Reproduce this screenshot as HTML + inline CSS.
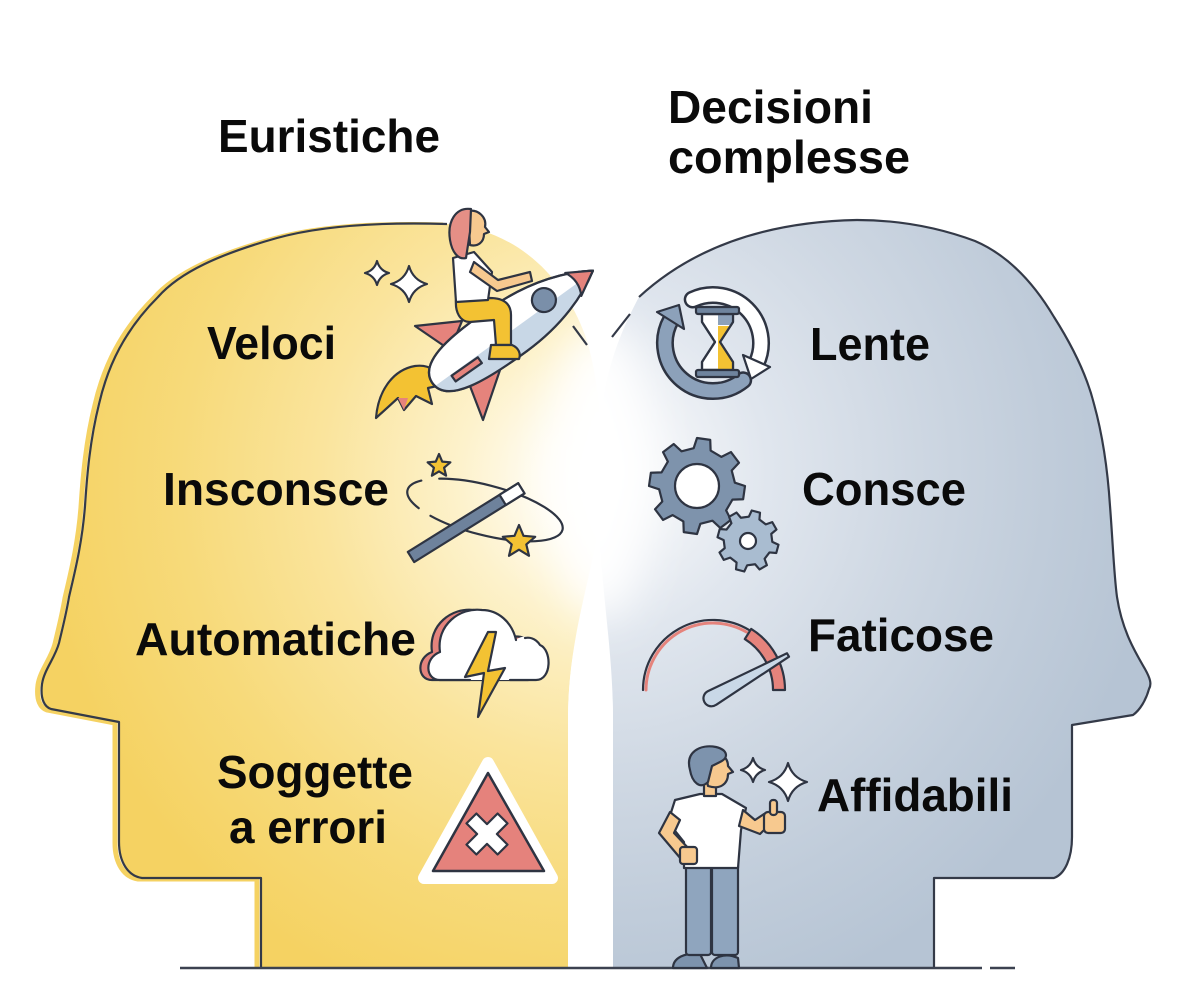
<!DOCTYPE html>
<html><head><meta charset="utf-8">
<style>
html,body{margin:0;padding:0;background:#fff;}
svg{display:block;}
text{font-family:"Liberation Sans",Arial,sans-serif;font-weight:bold;fill:#0a0a0a;}
</style></head>
<body>
<svg width="1200" height="999" viewBox="0 0 1200 999" xmlns="http://www.w3.org/2000/svg">
<defs>
  <radialGradient id="gy" gradientUnits="userSpaceOnUse" cx="600" cy="480" r="560">
    <stop offset="0" stop-color="#FFFFFF"/>
    <stop offset="0.1" stop-color="#FFFCF2"/>
    <stop offset="0.25" stop-color="#FDF2CC"/>
    <stop offset="0.5" stop-color="#FAE49C"/>
    <stop offset="0.75" stop-color="#F7DA7A"/>
    <stop offset="1" stop-color="#F5D262"/>
  </radialGradient>
  <radialGradient id="gb" gradientUnits="userSpaceOnUse" cx="600" cy="470" r="560">
    <stop offset="0" stop-color="#FFFFFF"/>
    <stop offset="0.12" stop-color="#F3F5F8"/>
    <stop offset="0.3" stop-color="#E0E6EE"/>
    <stop offset="0.55" stop-color="#CFD8E3"/>
    <stop offset="0.8" stop-color="#C0CCDA"/>
    <stop offset="1" stop-color="#B6C4D4"/>
  </radialGradient>
  <filter id="blur" x="-100%" y="-100%" width="300%" height="300%"><feGaussianBlur stdDeviation="22"/></filter>
</defs>

<!-- left head offset color edge -->
<path d="M447,224 C380,222 320,226 277,238 C220,254 180,272 158,297 C125,330 108,365 99,404 C90,440 87,475 85,506 C82,545 74,575 69,597 C66,615 62,630 59,643 C55,658 44,670 42,684 C40,700 45,707 51,709 L119,722 L119,842 C119,862 128,876 142,878 L261,878 L261,967" transform="translate(-4,1)" fill="none" stroke="#F5D262" stroke-width="5"/>

<!-- left head fill -->
<path d="M447,224 C520,230 565,280 585,335 C597,370 602,420 602,480 C602,560 568,620 568,720 L568,968 L261,968 L261,878 L142,878 C128,876 119,862 119,842 L119,722 L51,709 C45,707 40,700 42,684 C44,670 55,658 59,643 C62,630 66,615 69,597 C74,575 82,545 85,506 C87,475 90,440 99,404 C108,365 125,330 158,297 C180,272 220,254 277,238 C320,226 380,222 447,224 Z" fill="url(#gy)"/>

<!-- right head fill -->
<path d="M639,297 C690,250 760,222 857,220 C900,220 940,228 975,241 C1010,256 1035,285 1054,317 C1075,350 1088,380 1094,404 C1104,440 1108,475 1110,506 C1113,545 1114,575 1117,597 C1122,630 1135,652 1145,669 C1150,678 1152,684 1149,689 C1146,700 1140,710 1133,715 L1072,725 L1072,837 C1072,858 1065,874 1054,878 L934,878 L934,968 L613,968 L613,720 C613,640 598,580 598,480 C598,410 605,360 639,297 Z" fill="url(#gb)"/>

<!-- center glow & strip -->
<ellipse cx="600" cy="470" rx="50" ry="150" fill="#fff" filter="url(#blur)"/>
<path d="M568,968 L568,720 C568,660 580,615 591,592 C602,615 613,660 613,720 L613,968 Z" fill="#fff"/>

<!-- head outlines -->
<g fill="none" stroke="#343A48" stroke-width="2.2" stroke-linejoin="round">
  <path d="M447,224 C380,222 320,226 277,238 C220,254 180,272 158,297 C125,330 108,365 99,404 C90,440 87,475 85,506 C82,545 74,575 69,597 C66,615 62,630 59,643 C55,658 44,670 42,684 C40,700 45,707 51,709 L119,722 L119,842 C119,862 128,876 142,878 L261,878 L261,967"/>
  <path d="M639,297 C690,250 760,222 857,220 C900,220 940,228 975,241 C1010,256 1035,285 1054,317 C1075,350 1088,380 1094,404 C1104,440 1108,475 1110,506 C1113,545 1114,575 1117,597 C1122,630 1135,652 1145,669 C1150,678 1152,684 1149,689 C1146,700 1140,710 1133,715 L1072,725 L1072,837 C1072,858 1065,874 1054,878 L934,878 L934,967"/>
  <line x1="573" y1="326" x2="587" y2="345"/>
  <line x1="612" y1="337" x2="630" y2="314"/>
</g>

<!-- bottom line -->
<line x1="180" y1="968" x2="982" y2="968" stroke="#3C4250" stroke-width="2.5"/>
<line x1="990" y1="968" x2="1015" y2="968" stroke="#3C4250" stroke-width="2.5"/>

<g stroke="#2E3442" stroke-width="2.2" stroke-linejoin="round" stroke-linecap="round">

<!-- ROCKET sparkles -->
<path d="M377,261 Q379.6,270.4 389,273 Q379.6,275.6 377,285 Q374.4,275.6 365,273 Q374.4,270.4 377,261 Z" fill="#fff"/>
<path d="M409,266 Q413,280 427,284 Q413,288 409,302 Q405,288 391,284 Q405,280 409,266 Z" fill="#fff"/>
<!-- flame -->
<path d="M376,418 C378,392 392,370 415,366 C430,364 440,372 442,385 L428,388 L432,404 L416,396 L404,410 L398,398 Z" fill="#F3C233"/>
<path d="M404,410 L398,398 L408,398 Z" fill="#E5837C" stroke="none"/>
<polygon points="415,326 462,321 450,350" fill="#E5837C"/>
<polygon points="465,373 500,370 483,420" fill="#E5837C"/>
<g transform="translate(511,328) rotate(-35)">
  <path d="M-96,0 C-96,-26 -50,-29 0,-28 C45,-27 78,-14 100,0 C78,14 45,27 0,28 C-50,29 -96,26 -96,0 Z" fill="#fff"/>
  <path d="M-95,4 L99,1 C78,14 45,27 0,28 C-50,29 -92,24 -95,4 Z" fill="#C8D7E6" stroke="none"/>
  <path d="M-96,0 C-96,-26 -50,-29 0,-28 C45,-27 78,-14 100,0 C78,14 45,27 0,28 C-50,29 -96,26 -96,0 Z" fill="none"/>
  <path d="M76,-14 L100,0 L76,14 C81,5 81,-5 76,-14 Z" fill="#E5837C"/>
  <circle cx="43" cy="-4" r="12" fill="#7A8FA9"/>
  <rect x="-76" y="5" width="32" height="7" fill="#E5837C"/>
</g>
<!-- girl -->
<path d="M456,300 L490,298 C505,298 511,305 511,315 L511,345 L496,345 L494,320 L470,322 C460,322 455,312 456,300 Z" fill="#F3C233"/>
<path d="M491,345 L512,345 C519,348 521,354 519,359 L489,359 Z" fill="#F3C233"/>
<path d="M453,258 L474,252 L492,272 L488,300 L456,302 Z" fill="#fff"/>
<path d="M474,262 L498,280 L530,272 L532,281 L497,291 L470,272 Z" fill="#F7C98F"/>
<path d="M468,211 C478,209 487,217 485,227 L489,232 L484,234 C484,242 478,247 470,245 Z" fill="#F7C98F"/>
<path d="M471,209 C456,207 447,221 450,240 C452,252 458,260 466,258 L470,232 Z" fill="#E58F86"/>

<!-- MAGIC WAND -->
<ellipse cx="485" cy="510" rx="80" ry="25" transform="rotate(14.4 485 510)" fill="none" stroke-dasharray="140 14 40 18 300"/>
<g transform="translate(411,557) rotate(-31.9)">
  <rect x="0" y="-6" width="130" height="12" fill="#6E829C"/>
  <rect x="108" y="-6" width="22" height="12" fill="#fff"/>
</g>
<polygon points="439,454 442.2,461.6 450.4,462.3 444.1,467.7 446.1,475.7 439,471.4 431.9,475.7 433.9,467.7 427.6,462.3 435.8,461.6" fill="#F3C233"/>
<polygon points="519,525 523.5,535.8 535.2,536.8 526.3,544.4 529,555.8 519,549.7 509,555.8 511.7,544.4 502.8,536.8 514.5,535.8" fill="#F3C233"/>

<!-- CLOUD -->
<path d="M432,680 C417,680 416,658 432,652 C428,625 452,607 474,610 C490,610 504,622 508,640 C514,634 527,636 532,645 C544,650 544,680 528,680 Z" fill="#E5837C"/>
<path d="M440,680 C425,680 424,658 440,652 C436,625 460,607 482,610 C498,610 512,622 516,640 C522,634 535,636 540,645 C552,650 552,680 536,680 Z" fill="#fff" stroke="none"/>
<path d="M440,680 C425,680 424,658 440,652 C436,625 460,607 482,610 C498,610 512,622 516,640 M525,638 C535,636 540,645 540,645 C552,650 552,680 536,680 L510,680 M470,680 L440,680" fill="none"/>
<polygon points="488,632 465,677 484,673 478,717 505,668 488,671 496,632" fill="#F3C233"/>

<!-- WARNING -->
<polygon points="488,763 424,878 552,878" fill="#fff" stroke="#fff" stroke-width="12" stroke-linejoin="round"/>
<polygon points="488,773 433,871 544,871" fill="#E5827C" stroke-width="2.5"/>
<path d="M-7,-22 L7,-22 L7,-7 L22,-7 L22,7 L7,7 L7,22 L-7,22 L-7,7 L-22,7 L-22,-7 L-7,-7 Z" transform="translate(487,834) rotate(45)" fill="#fff"/>

<!-- HOURGLASS CYCLE -->
<path d="M671,319.7 A48,48 0 0 0 743.2,380.3" fill="none" stroke="#2E3442" stroke-width="18" stroke-linecap="round"/>
<path d="M671,319.7 A48,48 0 0 0 743.2,380.3" fill="none" stroke="#8CA1BA" stroke-width="13" stroke-linecap="round"/>
<polygon points="679,305 657,312 684,329" fill="#8CA1BA"/>
<path d="M692.7,299.5 A48,48 0 0 1 756.5,363.3" fill="none" stroke="#2E3442" stroke-width="18" stroke-linecap="round"/>
<path d="M692.7,299.5 A48,48 0 0 1 756.5,363.3" fill="none" stroke="#fff" stroke-width="13" stroke-linecap="round"/>
<polygon points="751,379 770,367 743,355" fill="#fff"/>
<path d="M702,314 L733,314 L733,322 L720,342 L733,362 L733,370 L702,370 L702,362 L715,342 L702,322 Z" fill="#fff"/>
<path d="M718,326 L730,326 L719,342 L733,362 L733,370 L718,370 Z" fill="#F3C233" stroke="none"/>
<rect x="718" y="315" width="14" height="10" fill="#8CA1BA" stroke="none"/>
<path d="M702,314 L733,314 L733,322 L720,342 L733,362 L733,370 L702,370 L702,362 L715,342 L702,322 Z" fill="none"/>
<rect x="696" y="307" width="43" height="7" rx="2" fill="#6F849E"/>
<rect x="696" y="370" width="43" height="7" rx="2" fill="#6F849E"/>

<!-- GEARS -->
<path transform="translate(697,486) rotate(8)" d="M37.03,-8.55 L47.53,-6.68 L47.53,6.68 L37.03,8.55 L32.23,20.14 L38.33,28.88 L28.88,38.33 L20.14,32.23 L8.55,37.03 L6.68,47.53 L-6.68,47.53 L-8.55,37.03 L-20.14,32.23 L-28.88,38.33 L-38.33,28.88 L-32.23,20.14 L-37.03,8.55 L-47.53,6.68 L-47.53,-6.68 L-37.03,-8.55 L-32.23,-20.14 L-38.33,-28.88 L-28.88,-38.33 L-20.14,-32.23 L-8.55,-37.03 L-6.68,-47.53 L6.68,-47.53 L8.55,-37.03 L20.14,-32.23 L28.88,-38.33 L38.33,-28.88 L32.23,-20.14 Z" fill="#7E93AC"/>
<circle cx="697" cy="486" r="22" fill="#fff"/>
<path transform="translate(748,541) rotate(15) scale(0.64)" stroke-width="3.4" d="M37.03,-8.55 L47.53,-6.68 L47.53,6.68 L37.03,8.55 L32.23,20.14 L38.33,28.88 L28.88,38.33 L20.14,32.23 L8.55,37.03 L6.68,47.53 L-6.68,47.53 L-8.55,37.03 L-20.14,32.23 L-28.88,38.33 L-38.33,28.88 L-32.23,20.14 L-37.03,8.55 L-47.53,6.68 L-47.53,-6.68 L-37.03,-8.55 L-32.23,-20.14 L-38.33,-28.88 L-28.88,-38.33 L-20.14,-32.23 L-8.55,-37.03 L-6.68,-47.53 L6.68,-47.53 L8.55,-37.03 L20.14,-32.23 L28.88,-38.33 L38.33,-28.88 L32.23,-20.14 Z" fill="#A9BCD0"/>
<circle cx="748" cy="541" r="8" fill="#fff"/>

<!-- SPEEDOMETER -->
<path d="M646,690 A67,67 0 0 1 746.5,632" fill="none" stroke="#E5837C" stroke-width="3"/>
<path d="M643,690 A70,70 0 0 1 750.1,630.6" fill="none"/>
<path d="M751.2,628.9 A72,72 0 0 1 785,690 L773,690 A60,60 0 0 0 744.8,639.1 Z" fill="#E5837C"/>
<path d="M716,704.9 L789,656.7 L787,653.3 L708,691.1 A8,8 0 1 0 716,704.9 Z" fill="#C9D8E7"/>

<!-- PERSON -->
<path d="M673,968 C673,958 685,952 700,954 L707,968 Z" fill="#7D93AD"/>
<path d="M711,968 C711,957 725,952 738,958 L739,968 Z" fill="#7D93AD"/>
<rect x="686" y="862" width="25" height="93" rx="3" fill="#8FA5BE"/>
<rect x="712" y="862" width="26" height="93" rx="3" fill="#8FA5BE"/>
<path d="M675,800 L700,794 L722,794 L746,808 L741,830 L738,868 L684,868 L684,842 L668,822 Z" fill="#fff"/>
<path d="M670,812 L659,833 L681,859 L690,850 L674,833 L680,820 Z" fill="#F7C98F"/>
<rect x="680" y="847" width="17" height="17" rx="3" fill="#F7C98F"/>
<path d="M739,826 L760,834 L770,824 L764,814 L755,820 L743,810 Z" fill="#F7C98F"/>
<rect x="764" y="812" width="21" height="21" rx="4" fill="#F7C98F"/>
<rect x="770" y="800" width="7" height="15" rx="3" fill="#F7C98F"/>
<path d="M704,782 L716,782 L716,796 L704,796 Z" fill="#F7C98F"/>
<path d="M703,760 C710,750 728,752 728,766 L733,772 L728,774 C728,784 720,790 708,786 Z" fill="#F7C98F"/>
<path d="M690,770 C685,752 700,744 716,747 C728,750 729,758 720,762 L712,766 L708,782 C700,790 692,782 690,770 Z" fill="#7D93AD"/>
<path d="M753,758 Q755.6,767.4 765,770 Q755.6,772.6 753,782 Q750.4,772.6 741,770 Q750.4,767.4 753,758 Z" fill="#fff"/>
<path d="M788,763 Q792.2,777.8 807,782 Q792.2,786.2 788,801 Q783.8,786.2 769,782 Q783.8,777.8 788,763 Z" fill="#fff"/>
</g>

<!-- TEXT -->
<text x="218" y="152" font-size="46" textLength="222" lengthAdjust="spacingAndGlyphs">Euristiche</text>
<text x="668" y="123" font-size="46" textLength="205" lengthAdjust="spacingAndGlyphs">Decisioni</text>
<text x="668" y="173" font-size="46" textLength="242" lengthAdjust="spacingAndGlyphs">complesse</text>

<text x="207" y="359" font-size="46" textLength="129" lengthAdjust="spacingAndGlyphs">Veloci</text>
<text x="163" y="505" font-size="46" textLength="226" lengthAdjust="spacingAndGlyphs">Insconsce</text>
<text x="135" y="655" font-size="46" textLength="281" lengthAdjust="spacingAndGlyphs">Automatiche</text>
<text x="217" y="788" font-size="46" textLength="196" lengthAdjust="spacingAndGlyphs">Soggette</text>
<text x="229" y="843" font-size="46" textLength="158" lengthAdjust="spacingAndGlyphs">a errori</text>

<text x="810" y="360" font-size="46" textLength="120" lengthAdjust="spacingAndGlyphs">Lente</text>
<text x="802" y="505" font-size="46" textLength="164" lengthAdjust="spacingAndGlyphs">Consce</text>
<text x="808" y="651" font-size="46" textLength="186" lengthAdjust="spacingAndGlyphs">Faticose</text>
<text x="817" y="811" font-size="46" textLength="196" lengthAdjust="spacingAndGlyphs">Affidabili</text>
</svg>
</body></html>
